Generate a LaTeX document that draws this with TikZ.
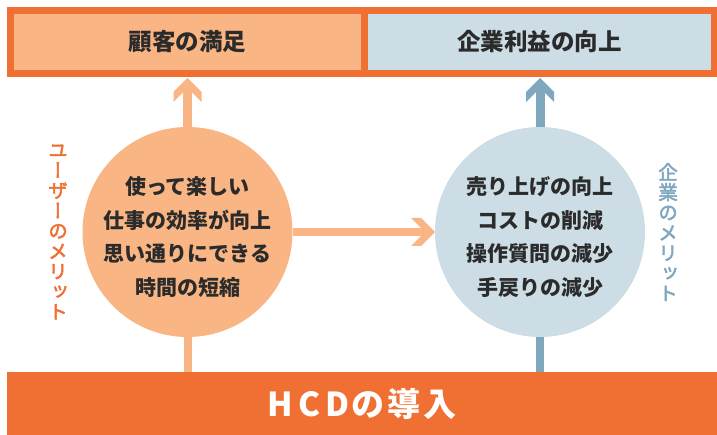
\documentclass[tikz,border=0pt]{standalone}
\usepackage{fontspec}
\usetikzlibrary{calc}
\newfontfamily\jp{Noto Sans CJK JP}
\newfontfamily\jpv{Noto Sans CJK JP}[RawFeature=+vert, FakeBold=2.5]
\definecolor{orangeM}{HTML}{F07033}
\definecolor{orangeL}{HTML}{F9B583}
\definecolor{blueL}{HTML}{CCDDE6}
\definecolor{blueD}{HTML}{7FA8BF}
\definecolor{ink}{HTML}{2B2B2B}
\begin{document}
\begin{tikzpicture}[x=1pt,y=-1pt,
  every node/.style={inner sep=0pt, outer sep=0pt},
  lbl/.style={font=\jp\bfseries\fontsize{23.5}{26}\selectfont, text=ink},
  bubble/.style={circle, minimum size=210pt},
  bubtext/.style={align=center, font=\jp\bfseries\fontsize{21}{33.5}\selectfont, text=ink},
  shaft/.style={line width=9pt},
  vlbl/.style={align=center, font=\jpv\fontsize{19.5}{20.2}\selectfont},
  chev/.pic={\fill (0,0) -- (-14,14) -- (-24,14) -- (-10,0) -- (-24,-14) -- (-14,-14) -- cycle;}
]
\useasboundingbox (0,0) rectangle (717,435);
\fill[white] (0,0) rectangle (717,435);

% top frame
\fill[orangeM] (7,7) rectangle (717,77);
\node[fill=orangeL, minimum width=347pt, minimum height=56pt, lbl] (cs) at (187.5,42) {顧客の満足};
\node[fill=blueL, minimum width=343pt, minimum height=56pt, lbl] (cp) at (539.5,42) {企業利益の向上};

% bottom bar
\node[fill=orangeM, minimum width=710pt, minimum height=64pt, text=white,
      font=\jp\bfseries\fontsize{33}{36}\selectfont] (hcd) at (362,404)
      {H\hspace{5pt}C\hspace{5pt}D\hspace{2pt}の\hspace{3pt}導\hspace{3pt}入};

% circles
\node[bubble, fill=orangeL] (lc) at (187.5,232) {};
\node[bubble, fill=blueL] (rc) at (540,232) {};
\node[bubtext] (lct) at (187.5,237) {使って楽しい\\仕事の効率が向上\\思い通りにできる\\時間の短縮};
\node[bubtext] (rct) at (540,237) {売り上げの向上\\コストの削減\\操作質問の減少\\手戻りの減少};

% up arrows
\coordinate (tL) at (lc.north |- 0,78);
\coordinate (tR) at (rc.north |- 0,78);
\draw[shaft, orangeL, shorten >=10pt] (lc.north) -- (tL);
\pic[fill=orangeL, rotate=90] at (tL) {chev};
\draw[shaft, blueD, shorten >=10pt] (rc.north) -- (tR);
\pic[fill=blueD, rotate=90] at (tR) {chev};

% horizontal arrow
\draw[shaft, orangeL, line width=8.5pt, shorten >=10pt] (lc.east) -- (rc.west);
\pic[fill=orangeL] at (rc.west) {chev};

% bottom connectors
\draw[shaft, orangeL, line width=8pt] (lc.south) -- (lc.south |- hcd.north);
\draw[shaft, blueD, line width=8pt] (rc.south) -- (rc.south |- hcd.north);

% vertical labels
\node[vlbl, text=orangeM] (um) at (58,232) {ユ\\ー\\ザ\\ー\\の\\メ\\リ\\ッ\\ト};
\node[vlbl, text=blueD] (cm) at (668,232) {企\\業\\の\\メ\\リ\\ッ\\ト};
\end{tikzpicture}
\end{document}
